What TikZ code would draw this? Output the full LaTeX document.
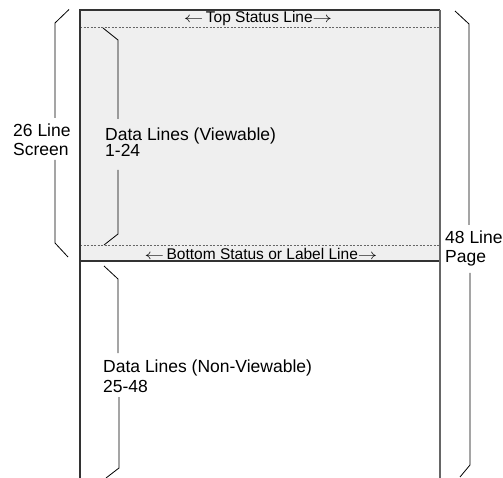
\documentclass[tikz,border=0pt]{standalone}
\usepackage{fontspec}
\setmainfont{Liberation Sans}
\definecolor{screenfill}{HTML}{EFEFEF}
\definecolor{boxline}{HTML}{333333}
\definecolor{dashline}{HTML}{666666}
\newcommand{\larr}{\scalebox{1.35}[1]{$\leftarrow$}}
\newcommand{\rarr}{\scalebox{1.35}[1]{$\rightarrow$}}
\begin{document}
\begin{tikzpicture}[x=1pt,y=-1pt,
  bigtext/.style={font=\fontsize{17.5}{19}\selectfont, inner sep=0pt, anchor=base west},
  stattext/.style={font=\fontsize{15.5}{17}\selectfont, inner sep=0pt, anchor=base},
  brace/.style={draw=black, line width=0.8pt},
  boxedge/.style={draw=boxline, line width=1.2pt},
  dashedge/.style={draw=dashline, line width=0.8pt, dash pattern=on 2pt off 1.5pt}]
\useasboundingbox (0,0) rectangle (503,478);
% screen area
\fill[screenfill] (80,10) rectangle (440,261);
\draw[dashedge] (80,27) -- (440,27);
\draw[dashedge] (80,245.5) -- (440,245.5);
\draw[boxedge] (80,478) -- (80,10) -- (440,10);
\draw[boxedge] (80,261) -- (440,261);
\draw[draw=dashline, line width=1.2pt] (440,10) -- (440,478);
% status labels
\node[stattext] (top) at (258,23) {\larr\,Top Status Line\rarr};
\node[stattext] (bottom) at (261,259.5) {\larr\,Bottom Status or Label Line\rarr};
% left outer brace
\draw[brace] (69,9.5) -- (55,23) -- (55,118);
\draw[brace] (55,160) -- (55,243) -- (68,257);
\node[bigtext] (scr1) at (13,137) {26 Line};
\node[bigtext] (scr2) at (13,156) {Screen};
% inner brace (viewable)
\draw[brace] (103,28) -- (118,40) -- (118,119);
\draw[brace] (118,170) -- (118,234) -- (104,245);
\node[bigtext] (v1) at (105,141) {Data Lines (Viewable)};
\node[bigtext] (v2) at (105,157) {1-24};
% inner brace (non-viewable)
\draw[brace] (104,266) -- (118,279) -- (118,353);
\draw[brace] (119,397) -- (119,468) -- (106,478);
\node[bigtext] (n1) at (103,372.7) {Data Lines (Non-Viewable)};
\node[bigtext] (n2) at (103,392.7) {25-48};
% right brace
\draw[brace] (455,11) -- (469,24) -- (469,225);
\draw[brace] (470,273) -- (470,465) -- (460,477);
\node[bigtext] (p1) at (445,244) {48 Line};
\node[bigtext] (p2) at (445,262) {Page};
\end{tikzpicture}
\end{document}
